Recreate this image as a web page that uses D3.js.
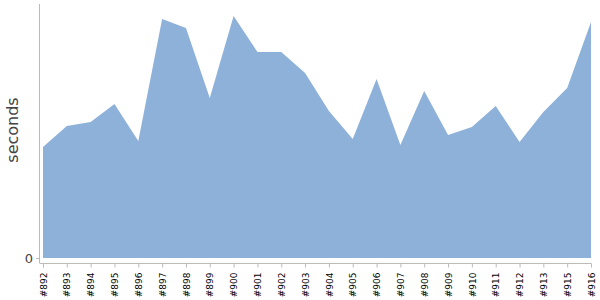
<!DOCTYPE html>
<html>
<head>
<meta charset="utf-8">
<script src="https://cdn.jsdelivr.net/npm/d3@7"></script>
<style>
  body { margin: 0; background: #fff; }
  svg { display: block; }
</style>
</head>
<body>
<div id="chart"></div>
<script>
const builds = ["#892","#893","#894","#895","#896","#897","#898","#899","#900","#901","#902","#903",
  "#904","#905","#906","#907","#908","#909","#910","#911","#912","#913","#915","#916"]
const seconds = [111,132,136,154,117,239,230,160,242,206,206,185,
  147,119,179,113,167,123,131,152,116,146,170,236]

const width = 600, height = 300
const svg = d3.select("#chart").append("svg")
  .attr("width", width)
  .attr("height", height)

const x = d3.scalePoint().domain(builds).range([43, 591])
const y = d3.scaleLinear().domain([0, 254]).range([258, 4])

const data = builds.map((b, i) => ({ b, v: seconds[i] }))

const area = d3.area()
  .x(d => x(d.b))
  .y0(y(0))
  .y1(d => y(d.v))

svg.append("path")
  .datum(data)
  .attr("d", area)
  .attr("fill", "#8eb1da")

// y axis
svg.append("line")
  .attr("x1", 39.5).attr("x2", 39.5)
  .attr("y1", 4).attr("y2", 263)
  .attr("stroke", "#bbb")
svg.append("line")
  .attr("x1", 36).attr("x2", 39.5)
  .attr("y1", y(0) + 0.5).attr("y2", y(0) + 0.5)
  .attr("stroke", "#bbb")
svg.append("text")
  .attr("x", 33).attr("y", y(0) + 4.5)
  .attr("text-anchor", "end")
  .attr("font-family", "DejaVu Sans")
  .attr("font-size", 13)
  .attr("fill", "#444")
  .text("0")

svg.append("text")
  .attr("transform", "translate(18,130) rotate(-90)")
  .attr("text-anchor", "middle")
  .attr("font-family", "DejaVu Sans")
  .attr("font-size", 16)
  .attr("fill", "#444")
  .text("seconds")

// x axis
const xAxis = svg.append("g")
  .attr("transform", "translate(0,263.5)")
  .call(d3.axisBottom(x).tickSize(4).tickSizeOuter(0))
xAxis.select(".domain")
  .attr("stroke", "#bbb")
  .attr("d", "M39.5,0H591.5")
xAxis.selectAll(".tick line").attr("stroke", "#bbb")
xAxis.selectAll(".tick text")
  .attr("font-family", "DejaVu Sans")
  .attr("font-size", 9)
  .attr("fill", "#000")
  .attr("transform", "rotate(-90)")
  .attr("text-anchor", "end")
  .attr("x", -9)
  .attr("y", 0)
  .attr("dy", "0.35em")
</script>
</body>
</html>
